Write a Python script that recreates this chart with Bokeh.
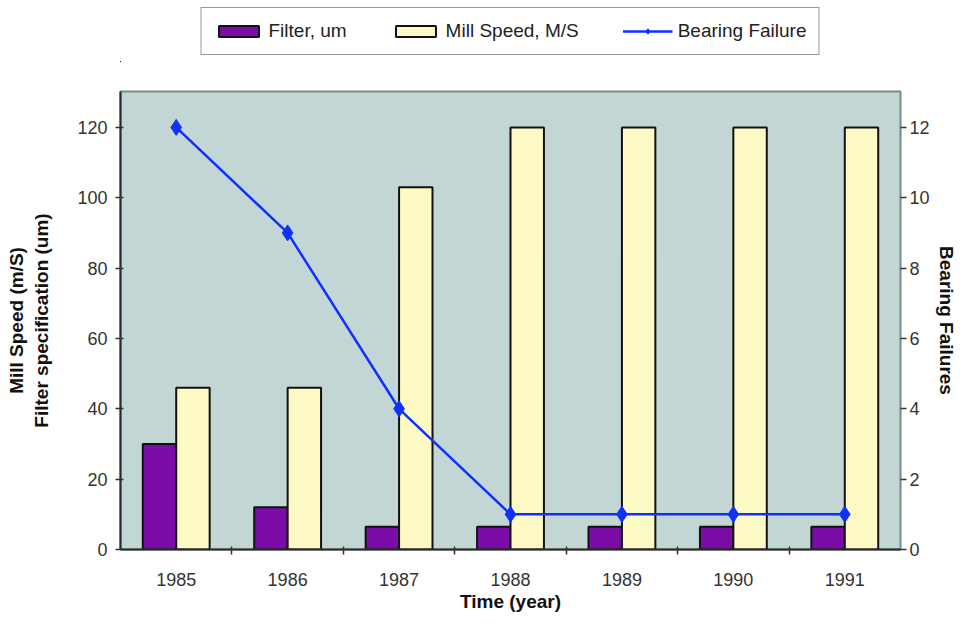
from bokeh.plotting import figure
from bokeh.models import (LinearAxis, Range1d, FixedTicker, Legend, LegendItem)
from bokeh.transform import dodge
from bokeh.layouts import column
from bokeh.embed import file_html
from bokeh.resources import INLINE

years = ["1985", "1986", "1987", "1988", "1989", "1990", "1991"]
filter_um = [30, 12, 6.5, 6.5, 6.5, 6.5, 6.5]
mill_speed = [46, 46, 103, 120, 120, 120, 120]
bearing_failures = [12, 9, 4, 1, 1, 1, 1]
left_ticks = [0, 20, 40, 60, 80, 100, 120]
right_ticks = [0, 2, 4, 6, 8, 10, 12]

xpos = list(range(1, len(years) + 1))
data = dict(x=xpos, f=filter_um, m=mill_speed, b=bearing_failures)

FONT = "Liberation Sans"
PURPLE = "#7C0CA8"
YELLOW = "#FEFAC6"
BG = "#C2D7D5"
BLUE = "#1030FF"
OUTL = "#111111"

LEG_H = 62
p = figure(width=959, height=614 - LEG_H, output_backend="svg", toolbar_location=None,
           x_range=Range1d(0.5, len(years) + 0.5), y_range=Range1d(0, 130.2),
           min_border_left=120, min_border_right=52, min_border_top=91 - LEG_H,
           min_border_bottom=64,
           background_fill_color=BG, border_fill_color="white")
p.extra_y_ranges = {"bf": Range1d(0, 13.02)}
p.grid.visible = False
p.outline_line_color = "#788a88"
p.outline_line_width = 2

p.vbar(x=dodge("x", -0.15, range=p.x_range), top="f", width=0.3, source=data,
       fill_color=PURPLE, line_color=OUTL, line_width=2)
p.vbar(x=dodge("x", 0.15, range=p.x_range), top="m", width=0.3, source=data,
       fill_color=YELLOW, line_color=OUTL, line_width=2)
p.line(x="x", y="b", source=data, y_range_name="bf", line_color=BLUE, line_width=2.5)
p.scatter(x="x", y="b", source=data, y_range_name="bf", marker="diamond",
          size=16, fill_color=BLUE, line_color=BLUE)

# x axis
xa = p.xaxis[0]
xa.ticker = FixedTicker(ticks=xpos, minor_ticks=[i + 0.5 for i in xpos[:-1]])
xa.major_label_overrides = {x: y for x, y in zip(xpos, years)}
xa.major_tick_in = 0
xa.major_tick_out = 0
xa.minor_tick_in = 3
xa.minor_tick_out = 5
xa.minor_tick_line_color = "#333333"
xa.minor_tick_line_width = 1.5
xa.major_label_standoff = 18
xa.axis_label = "Time (year)"
xa.axis_label_standoff = 2

# left axis
ya = p.yaxis[0]
ya.ticker = FixedTicker(ticks=left_ticks, minor_ticks=[])
ya.major_tick_in = 3
ya.major_tick_out = 5
ya.major_label_standoff = 8
ya.axis_label = "Mill Speed (m/S)\nFilter specification (um)"
ya.axis_label_standoff = 22

# right axis
ra = LinearAxis(y_range_name="bf", ticker=FixedTicker(ticks=right_ticks, minor_ticks=[]),
                axis_label="Bearing Failures")
ra.major_tick_in = 0
ra.major_tick_out = 6
ra.major_label_standoff = 3
ra.axis_label_standoff = 3
ra.axis_line_color = None
p.add_layout(ra, "right")

for ax in (xa, ya, ra):
    ax.major_label_text_font = FONT
    ax.major_label_text_font_size = "18px"
    ax.major_label_text_color = "#333333"
    ax.axis_label_text_font = FONT
    ax.axis_label_text_font_size = "19px"
    ax.axis_label_text_font_style = "bold"
    ax.axis_label_text_color = "#111111"
    ax.major_tick_line_color = "#333333"
    ax.major_tick_line_width = 1.5
for ax in (xa, ya):
    ax.axis_line_color = "#2a2a2a"
    ax.axis_line_width = 2

# legend strip above the chart (its renderers draw the same data far outside the view)
lf = figure(width=959, height=LEG_H, output_backend="svg", toolbar_location=None,
            x_range=Range1d(100, 101), y_range=Range1d(1000, 1001), min_border=0,
            min_border_left=0, min_border_right=0, min_border_top=0, min_border_bottom=0,
            outline_line_color=None, border_fill_color="white", background_fill_color="white")
lf.axis.visible = False
lf.grid.visible = False
g_f = lf.vbar(x="x", top="f", width=0.3, source=data, fill_color=PURPLE, line_color=OUTL, line_width=2)
g_m = lf.vbar(x="x", top="m", width=0.3, source=data, fill_color=YELLOW, line_color=OUTL, line_width=2)
g_l = lf.line(x="x", y="b", source=data, line_color=BLUE, line_width=2.5)
g_s = lf.scatter(x="x", y="b", source=data, marker="diamond", size=14, fill_color=BLUE, line_color=BLUE)

legend = Legend(items=[
    LegendItem(label="Filter, um", renderers=[g_f]),
    LegendItem(label="Mill Speed, M/S", renderers=[g_m]),
    LegendItem(label="Bearing Failure", renderers=[g_l, g_s]),
], orientation="horizontal", location="center")
legend.label_text_font = FONT
legend.label_text_font_size = "19px"
legend.label_text_color = "#222222"
legend.glyph_width = 50
legend.glyph_height = 14
legend.label_standoff = 5
legend.spacing = 44
legend.padding = 12
legend.margin = 0
legend.border_line_color = "#333333"
legend.border_line_width = 1.5
legend.background_fill_color = "white"
legend.background_fill_alpha = 1
lf.add_layout(legend, "center")

open("out.html", "w").write(file_html(column(lf, p, spacing=0), INLINE))
